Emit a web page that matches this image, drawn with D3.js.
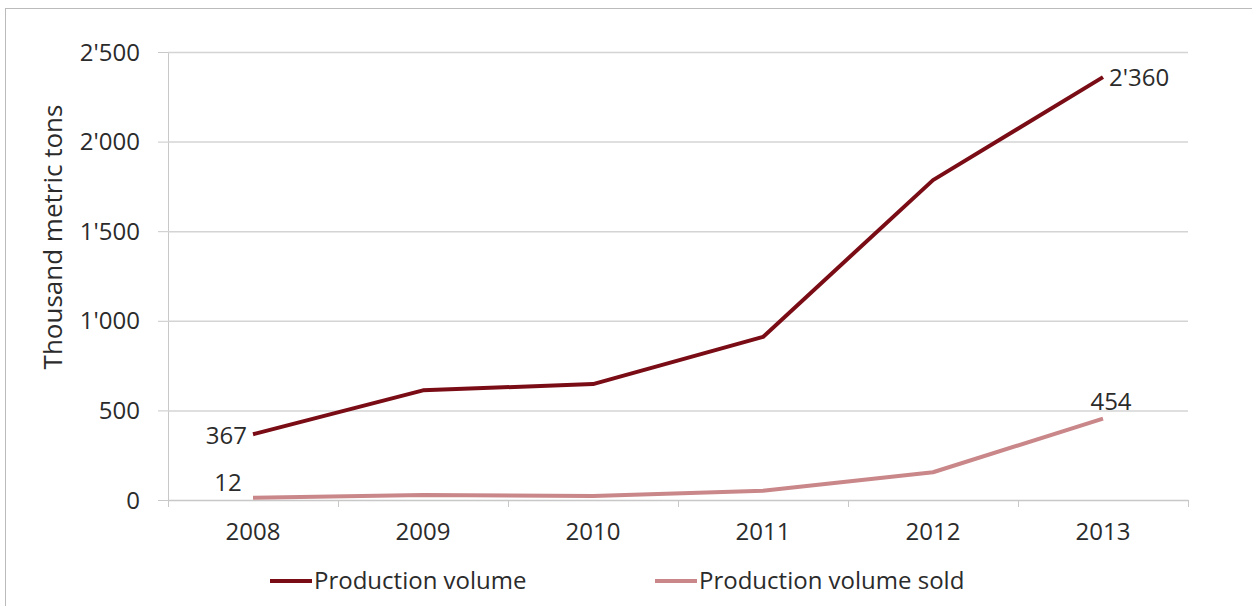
<!DOCTYPE html>
<html>
<head>
<meta charset="utf-8">
<script src="https://cdn.jsdelivr.net/npm/d3@7"></script>
<style>
  body { margin: 0; background: #fff; }
  svg text { font-family: "Open Sans", "Liberation Sans", sans-serif; fill: #2b2b2b; }
</style>
</head>
<body>
<svg id="chart"></svg>
<script>
// data
var aYears = ["2008", "2009", "2010", "2011", "2012", "2013"];
var aProduction = [367, 612, 647, 910, 1785, 2360];
var aSold = [12, 28, 22, 52, 155, 454];
var aYTicks = [0, 500, 1000, 1500, 2000, 2500];
var aSeriesNames = ["Production volume", "Production volume sold"];

var iWidth = 1252, iHeight = 606;
var m = { left: 168, right: 64, top: 52, bottom: 106 };
var cProd = "#7a0c16", cSold = "#c98789";
var sFont = "24px";

var svg = d3.select("#chart").attr("width", iWidth).attr("height", iHeight);

// рамка (только верх и лево видны)
svg.append("line").attr("x1", 5).attr("x2", iWidth).attr("y1", 8.5).attr("y2", 8.5)
    .attr("stroke", "#bbb").attr("stroke-width", 1);
svg.append("line").attr("x1", 5.5).attr("x2", 5.5).attr("y1", 8).attr("y2", iHeight)
    .attr("stroke", "#bbb").attr("stroke-width", 1);

var x = d3.scaleBand().domain(aYears).range([m.left, iWidth - m.right]);
var y = d3.scaleLinear().domain([0, 2500]).range([iHeight - m.bottom, m.top]);
var fmt = v => d3.format(",")(v).replace(/,/g, "'");

// сетка + ось y
var gy = svg.append("g")
    .attr("transform", `translate(${m.left},0)`)
    .call(d3.axisLeft(y).tickValues(aYTicks).tickSize(10).tickPadding(18).tickFormat(fmt));
gy.select(".domain").attr("stroke", "#c8c8c8");
gy.selectAll(".tick line").attr("stroke", "#c8c8c8");
gy.selectAll(".tick text").style("font-size", sFont).attr("dy", "0.34em");

svg.append("g").selectAll("line").data(aYTicks.filter(d => d > 0)).join("line")
    .attr("x1", m.left).attr("x2", iWidth - m.right)
    .attr("y1", d => y(d) + 0.5).attr("y2", d => y(d) + 0.5)
    .attr("stroke", "#d4d4d4").attr("stroke-width", 1.5);

// ось x
var gx = svg.append("g")
    .attr("transform", `translate(0,${y(0)})`)
    .call(d3.axisBottom(x).tickSize(0).tickPadding(23));
gx.select(".domain").attr("stroke", "#c8c8c8").attr("stroke-width", 1.5);
gx.selectAll(".tick text").style("font-size", sFont);
svg.append("g").selectAll("line").data(aYears.concat(["end"])).join("line")
    .attr("x1", (d, i) => m.left + i * x.step() + 0.5)
    .attr("x2", (d, i) => m.left + i * x.step() + 0.5)
    .attr("y1", y(0)).attr("y2", y(0) + 7)
    .attr("stroke", "#c8c8c8");

// линии
var line = d3.line()
    .x((d, i) => x(aYears[i]) + x.bandwidth() / 2)
    .y(d => y(d));

[[aSold, cSold], [aProduction, cProd]].forEach(function(s) {
    svg.append("path").datum(s[0])
        .attr("fill", "none").attr("stroke", s[1]).attr("stroke-width", 4)
        .attr("stroke-linejoin", "round").attr("d", line);
});

// подписи значений
var cx = i => x(aYears[i]) + x.bandwidth() / 2;
var labels = [
    { t: fmt(aProduction[0]), x: cx(0) - 6, y: y(aProduction[0]) + 2, a: "end" },
    { t: fmt(aSold[0]), x: cx(0) - 25, y: y(aSold[0]) - 15, a: "middle" },
    { t: fmt(aProduction[5]), x: cx(5) + 6, y: y(aProduction[5]) + 1, a: "start" },
    { t: fmt(aSold[5]), x: cx(5) + 8, y: y(aSold[5]) - 17, a: "middle" }
];
svg.append("g").selectAll("text").data(labels).join("text")
    .attr("x", d => d.x).attr("y", d => d.y).attr("dy", "0.34em").attr("text-anchor", d => d.a)
    .style("font-size", sFont).text(d => d.t);

// подпись оси y
svg.append("text")
    .attr("transform", `translate(62,${(y(0) + y(2500)) / 2 - 39}) rotate(-90)`)
    .attr("text-anchor", "middle").style("font-size", "26px")
    .text("Thousand metric tons");

// легенда
var legend = [
    { n: aSeriesNames[0], c: cProd, x: 270 },
    { n: aSeriesNames[1], c: cSold, x: 655 }
];
var gl = svg.append("g").selectAll("g").data(legend).join("g")
    .attr("transform", d => `translate(${d.x},581)`);
gl.append("line").attr("x1", 0).attr("x2", 42).attr("stroke", d => d.c).attr("stroke-width", 4);
gl.append("text").attr("x", 44).attr("dy", "0.34em").style("font-size", sFont).text(d => d.n);
</script>
</body>
</html>
